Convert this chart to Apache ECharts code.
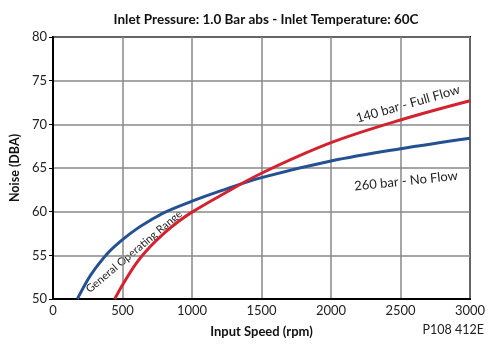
<!DOCTYPE html>
<html><head><meta charset="utf-8">
<script src="https://cdn.jsdelivr.net/npm/echarts@6/dist/echarts.min.js"></script>
<style>html,body{margin:0;padding:0;background:#fff}#c{width:491px;height:344px}</style>
</head><body><div id="c"></div>
<script>
var titleText = 'Inlet Pressure: 1.0 Bar abs - Inlet Temperature: 60C';
var xName = 'Input Speed (rpm)';
var yName = 'Noise (DBA)';
var xTicks = [0, 500, 1000, 1500, 2000, 2500, 3000];
var yTicks = [50, 55, 60, 65, 70, 75, 80];
var blueName = '260 bar - No Flow';
var blueRpm = [175, 250, 300, 400, 500, 600, 700, 800, 1000, 1200, 1500, 2000, 2500, 3000];
var blueDba = [50, 52.2, 53.4, 55.35, 56.8, 58.0, 59.0, 59.9, 61.2, 62.35, 63.9, 65.8, 67.2, 68.4];
var redName = '140 bar - Full Flow';
var redRpm = [444, 500, 600, 700, 800, 900, 1000, 1200, 1500, 2000, 2500, 3000];
var redDba = [50, 51.6, 54.1, 56.0, 57.55, 58.85, 59.95, 61.8, 64.4, 67.9, 70.5, 72.7];
var rangeText = 'General Operating Range';
var codeText = 'P108 412E';

function pairs(xs, ys){ return xs.map(function(x,i){ return [x, ys[i]]; }); }
var FONT = 'Lato';
var chart = echarts.init(document.getElementById('c'), null, {renderer:'canvas'});
chart.setOption({
  animation: false,
  backgroundColor: '#fff',
  textStyle: {fontFamily: FONT},
  title: {text: titleText, left: 261, top: 8, textAlign: 'center',
    textStyle: {fontFamily: FONT, fontWeight: 'bold', fontSize: 13.5, color: '#111'}},
  grid: {left: 53, right: 21, top: 37, bottom: 45, show: true, borderColor: '#000', borderWidth: 2, backgroundColor: 'transparent'},
  xAxis: {type: 'value', min: xTicks[0], max: xTicks[xTicks.length-1], interval: 500,
    axisLine: {show: true, lineStyle: {color: '#000', width: 2}},
    axisTick: {show: false},
    axisLabel: {color: '#222', fontSize: 13, fontFamily: FONT, margin: 5, formatter: function(v){ return String(v); }},
    splitLine: {show: true, lineStyle: {color: '#888', width: 1.5}},
    name: xName, nameLocation: 'middle', nameGap: 26,
    nameTextStyle: {fontWeight: 'bold', fontSize: 13, color: '#111', fontFamily: FONT}},
  yAxis: {type: 'value', min: yTicks[0], max: yTicks[yTicks.length-1], interval: 5,
    axisLine: {show: true, lineStyle: {color: '#000', width: 2}},
    axisTick: {show: true, length: 4, lineStyle: {color: '#000'}},
    axisLabel: {color: '#222', fontSize: 13, fontFamily: FONT, margin: 6},
    splitLine: {show: true, lineStyle: {color: '#888', width: 1.5}},
    name: yName, nameLocation: 'middle', nameGap: 29,
    nameTextStyle: {fontWeight: 'bold', fontSize: 12.5, color: '#111', fontFamily: FONT}},
  series: [
    {name: blueName, type: 'line', data: pairs(blueRpm, blueDba), smooth: 0.35,
      showSymbol: false, lineStyle: {color: '#245191', width: 3}},
    {name: redName, type: 'line', data: pairs(redRpm, redDba), smooth: 0.35,
      showSymbol: false, lineStyle: {color: '#d2232f', width: 3}}
  ],
  graphic: [
    {type: 'text', x: 408, y: 104, rotation: 16*Math.PI/180,
      style: {text: redName, fontFamily: FONT, fontSize: 13, fill: '#222', align: 'center', verticalAlign: 'middle'}},
    {type: 'text', x: 406, y: 181, rotation: 6*Math.PI/180,
      style: {text: blueName, fontFamily: FONT, fontSize: 13, fill: '#222', align: 'center', verticalAlign: 'middle'}},
    {type: 'text', x: 134, y: 251.5, rotation: 40*Math.PI/180,
      style: {text: rangeText, fontFamily: FONT, fontSize: 11, fill: '#222', align: 'center', verticalAlign: 'middle'}},
    {type: 'text', x: 484, y: 330,
      style: {text: codeText, fontFamily: FONT, fontSize: 12.5, fill: '#222', align: 'right', verticalAlign: 'middle'}}
  ]
});
</script></body></html>
